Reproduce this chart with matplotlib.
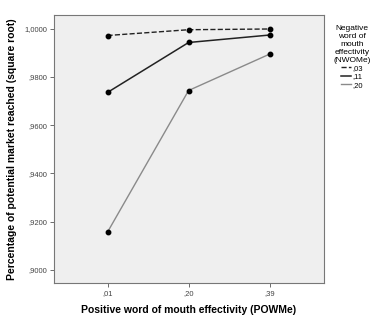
import numpy as np
import matplotlib
matplotlib.use("Agg")
from matplotlib import pyplot as plt

plt.rcParams["font.family"] = ["Liberation Sans", "DejaVu Sans"]

# x categories (POWMe) and one series per NWOMe level
x_labels = [",01", ",20", ",39"]
series_names = [",03", ",11", ",20"]
vals_03 = [0.9972, 0.9996, 0.9999]
vals_11 = [0.9736, 0.9943, 0.9974]
vals_20 = [0.9157, 0.9744, 0.9895]
y_ticks = [0.90, 0.92, 0.94, 0.96, 0.98, 1.00]
y_tick_labels = [",9000", ",9200", ",9400", ",9600", ",9800", "1,0000"]

fig = plt.figure(figsize=(3.77, 3.21), dpi=100)
ax = fig.add_axes([54 / 377, 1 - 283 / 321, 270 / 377, 268 / 321])
ax.set_facecolor("#efefef")

x = np.arange(len(x_labels))
styles = [("--", "#222222", 1.0), ("-", "#222222", 1.1), ("-", "#8a8a8a", 1.0)]
for name, vals, (ls, col, lw) in zip(series_names, [vals_03, vals_11, vals_20], styles):
	ax.plot(x, vals, linestyle=ls, color=col, lw=lw, label=name)
	ax.plot(x, vals, "o", color="black", ms=3.2, zorder=5)

ax.set_xlim(-0.66, 2.67)
ax.set_ylim(0.8946, 1.0057)
ax.set_xticks(x)
ax.set_xticklabels(x_labels)
ax.set_yticks(y_ticks)
ax.set_yticklabels(y_tick_labels)
ax.tick_params(labelsize=5.5, length=3, width=0.6, colors="#555555", labelcolor="#444444", pad=2)
for s in ax.spines.values():
	s.set_color("#777777")
	s.set_linewidth(0.8)

ax.set_xlabel("Positive word of mouth effectivity (POWMe)", fontsize=7.5, fontweight="bold", labelpad=6)
ax.set_ylabel("Percentage of potential market reached (square root)", fontsize=7.5, fontweight="bold", labelpad=5)

leg = ax.legend(title="Negative\nword of\nmouth\neffectivity\n(NWOMe)", loc="upper left",
	bbox_to_anchor=(1.01, 0.99), frameon=False, fontsize=5.5, title_fontsize=6.0,
	handlelength=1.3, handletextpad=0.2, labelspacing=0.15, borderaxespad=0.5)
leg.get_title().set_multialignment("center")
leg._legend_box.align = "center"

fig.savefig("out.png", dpi=100)
